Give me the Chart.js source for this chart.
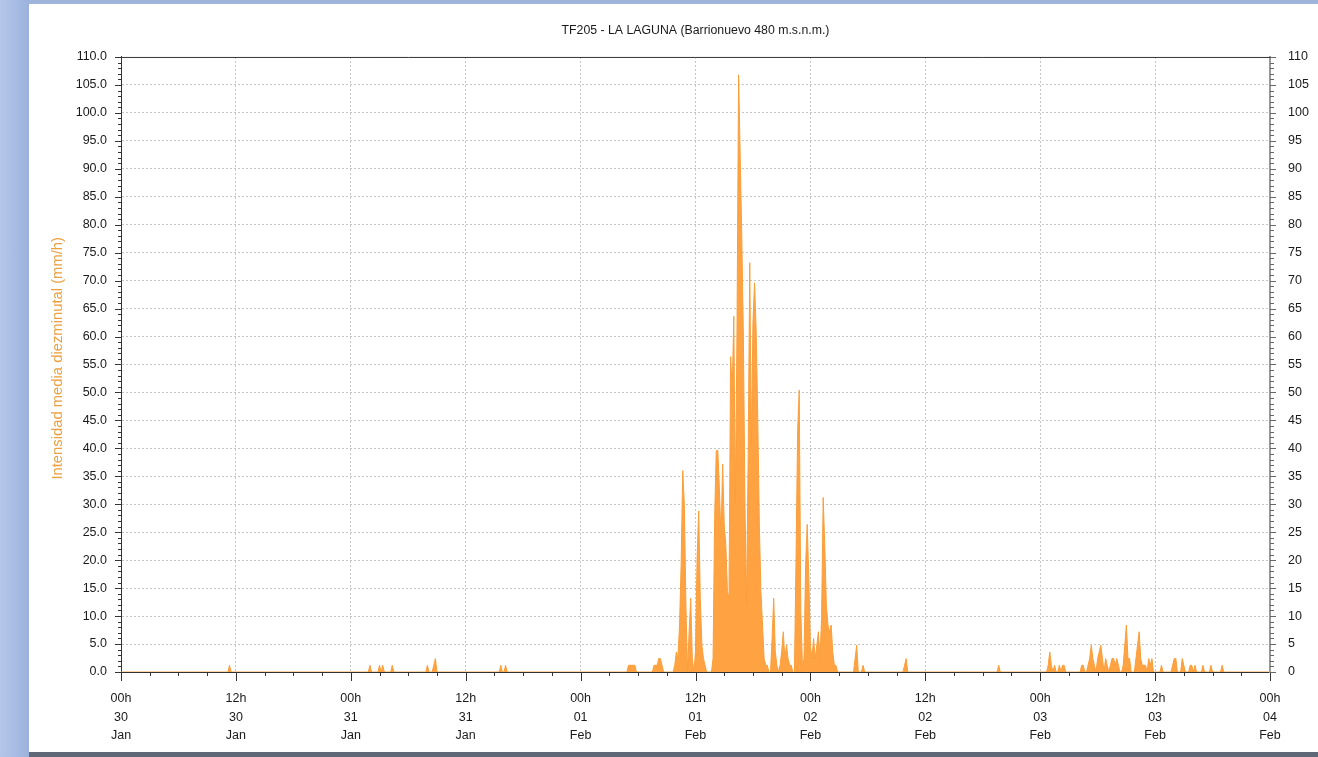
<!DOCTYPE html>
<html>
<head>
<meta charset="utf-8">
<script src="https://cdn.jsdelivr.net/npm/chart.js@4.4.1/dist/chart.umd.min.js"></script>
<style>
html, body { margin: 0; padding: 0; }
body { width: 1318px; height: 757px; overflow: hidden; background: #5f6877; position: relative; }
#frameTop { position: absolute; left: 0; top: 0; width: 1318px; height: 4px; background: #9fb4da; }
#frameLeft { position: absolute; left: 0; top: 0; width: 29px; height: 757px; background: linear-gradient(to right, #b4c7ea, #9cb2dc); }
#panel { position: absolute; left: 29px; top: 4px; width: 1289px; height: 748px; background: #fff; }
</style>
</head>
<body>
<div id="frameTop"></div>
<div id="frameLeft"></div>
<div id="panel"><canvas id="chart1" width="1289" height="748"></canvas></div>
<script>
// axis labels
const hourLabels = ['00h', '12h']
const dayLabels = ['30', '31', '01', '02', '03', '04']
const monthLabels = ['Jan', 'Jan', 'Feb', 'Feb', 'Feb', 'Feb']

// rain bursts: start time (day hh:mm) and 10-minute intensities (mm/h)
const burstStart = [
    '30 11:20',
    '31 02:00', '31 03:00', '31 03:20', '31 04:20', '31 08:00', '31 08:40', '31 15:40', '31 16:10',
    '01 05:00', '01 07:40', '01 09:50', '01 11:20', '01 12:00', '01 13:50', '01 20:00', '01 22:30',
    '02 04:40', '02 05:30', '02 09:50', '02 19:40',
    '03 00:50', '03 01:30', '03 02:00', '03 02:20', '03 04:20', '03 05:00', '03 06:00', '03 06:50',
    '03 07:20', '03 08:40', '03 10:00', '03 11:20', '03 12:40', '03 13:50', '03 14:50', '03 15:40',
    '03 16:10', '03 17:00', '03 17:50', '03 19:00'
]
const burstValues = [
    [1.2],
    [1.2], [1.2], [1.2], [1.2], [1.2], [1.2, 2.4], [1.2], [1.2],
    [1.2, 1.2, 1.2, 1.2, 1.2],
    [1.2, 1.2, 1.2, 2.4, 2.4, 1.2],
    [1.2, 3.6, 2.4, 8.4, 19.2, 36, 30, 12],
    [7.2, 13.2, 2.4],
    [3.6, 20.4, 28.8, 13.2, 4.8, 2.4, 1.2],
    [2.4, 27.6, 39.6, 39.6, 32.4, 24, 37.2, 26.4, 22.8, 14.4, 13.2, 56.4, 50.4, 63.6, 30, 61.2, 106.8, 92.4,
     78, 60, 30, 12, 38.4, 73.2, 40.8, 62.4, 69.6, 61.2, 45.6, 26.4, 14.4, 8.4, 2.4, 1.2, 1.2],
    [6, 13.2, 3.6, 1.2, 0, 1.2, 3.6, 7.2, 2.4, 4.8, 2.4, 1.2, 1.2],
    [20.4, 43.2, 50.4, 10.8, 1.2, 2.4, 19.2, 26.4, 16.8, 4.8, 2.4, 6, 2.4, 4.8, 7.2, 2.4, 9.6, 31.2, 22.8, 12,
     8.4, 7.2, 8.4, 3.6, 1.2, 1.2],
    [2.4, 4.8], [1.2], [1.2, 2.4], [1.2],
    [1.2, 3.6, 1.2], [1.2], [1.2], [1.2, 1.2], [1.2, 1.2], [1.2, 2.4, 4.8, 2.4, 1.2], [2.4, 3.6, 4.8, 2.4],
    [2.4, 1.2], [1.2, 2.4, 2.4, 1.2, 2.4, 1.2], [1.2, 4.8, 8.4, 2.4, 2.4], [2.4, 4.8, 7.2, 2.4, 1.2, 1.2, 1.2],
    [2.4, 1.2, 2.4], [1.2], [1.2, 2.4, 2.4], [2.4, 1.2], [1.2, 1.2],
    [1.2], [1.2], [1.2], [1.2]
]

const totalHours = 120
const yMax = 110

// 10-minute series, zero where no rain was recorded
let rainSeries = []
for (let i = 0; i <= totalHours * 6; i++) rainSeries.push({ x: i / 6, y: 0 })
burstStart.forEach((s, b) => {
    const [dd, hm] = s.split(' ')
    const [hh, mm] = hm.split(':').map(Number)
    const start = dayLabels.indexOf(dd) * 144 + hh * 6 + mm / 10
    burstValues[b].forEach((v, k) => { rainSeries[start + k].y = v })
})

const fontName = "'Liberation Sans', Arial, sans-serif"
const inkColor = '#1a1a1a'

// minor ticks and the frame line on top
const axisDecor = {
    id: 'axisDecor',
    afterDraw(chart) {
        const { ctx, chartArea, scales } = chart
        ctx.save()
        ctx.lineWidth = 1
        ctx.strokeStyle = '#333'
        ctx.beginPath()
        ctx.moveTo(chartArea.left, chartArea.top + 0.5)
        ctx.lineTo(chartArea.right, chartArea.top + 0.5)
        for (let v = 0; v <= yMax; v++) {
            const py = Math.round(scales.y.getPixelForValue(v)) + 0.5
            const len = v % 5 === 0 ? 6 : 3
            ctx.moveTo(chartArea.left - len, py)
            ctx.lineTo(chartArea.left, py)
        }
        for (let h = 0; h <= totalHours; h += 3) {
            const px = Math.round(scales.x.getPixelForValue(h)) + 0.5
            const len = h % 12 === 0 ? 9 : 4
            ctx.moveTo(px, chartArea.bottom)
            ctx.lineTo(px, chartArea.bottom + len)
        }
        ctx.stroke()
        ctx.strokeStyle = '#666'
        ctx.beginPath()
        for (let v = 0; v <= yMax; v++) {
            const py = Math.round(scales.y2.getPixelForValue(v)) + 0.5
            const len = v % 5 === 0 ? 6 : 4
            ctx.moveTo(chartArea.right, py)
            ctx.lineTo(chartArea.right + len, py)
        }
        ctx.stroke()
        ctx.restore()
    }
}

const rainChart = new Chart(
    document.getElementById('chart1'),
    {
        type: 'line',
        data: {
            datasets: [
                {
                    label: 'Intensidad',
                    data: rainSeries,
                    borderColor: 'rgb(250, 158, 58)',
                    backgroundColor: 'rgb(255, 163, 66)',
                    borderWidth: 1,
                    pointRadius: 0,
                    tension: 0,
                    fill: 'origin'
                }
            ]
        },
        options: {
            responsive: false,
            animation: false,
            devicePixelRatio: 1,
            layout: { padding: 0 },
            scales: {
                x: {
                    type: 'linear',
                    min: 0,
                    max: totalHours,
                    afterFit: scale => { scale.height = 80 },
                    ticks: {
                        stepSize: 12,
                        autoSkip: false,
                        maxRotation: 0,
                        padding: 17.5,
                        color: inkColor,
                        font: { family: fontName, size: 12.5, lineHeight: 1.47 },
                        callback: v => {
                            const d = Math.floor(v / 24)
                            return [hourLabels[(v % 24) / 12], dayLabels[d], monthLabels[d]]
                        }
                    },
                    grid: {
                        drawTicks: false,
                        color: c => (c.tick && c.tick.value > 0 && c.tick.value < totalHours) ? '#c4c4c4' : 'rgba(0,0,0,0)'
                    },
                    border: { color: '#333', dash: [2, 2] }
                },
                y: {
                    position: 'left',
                    min: 0,
                    max: yMax,
                    afterFit: scale => { scale.width = 92 },
                    ticks: {
                        stepSize: 5,
                        padding: 14,
                        color: inkColor,
                        font: { family: fontName, size: 12.5 },
                        callback: v => v.toFixed(1)
                    },
                    grid: {
                        drawTicks: false,
                        color: c => (c.tick && c.tick.value > 0 && c.tick.value < yMax) ? '#c4c4c4' : 'rgba(0,0,0,0)'
                    },
                    border: { color: '#333', dash: [2, 2] },
                    title: {
                        display: true,
                        text: '\u00a0\u00a0\u00a0Intensidad media diezminutal (mm/h)',
                        color: 'rgb(236, 160, 64)',
                        font: { family: fontName, size: 14.8 },
                        padding: { top: 20, bottom: 0 }
                    }
                },
                y2: {
                    position: 'right',
                    min: 0,
                    max: yMax,
                    afterFit: scale => { scale.width = 48 },
                    ticks: {
                        stepSize: 5,
                        padding: 18,
                        color: inkColor,
                        font: { family: fontName, size: 12.5 },
                        callback: v => String(v)
                    },
                    grid: { display: false, drawTicks: false },
                    border: { color: '#999', width: 2 }
                }
            },
            plugins: {
                legend: { display: false },
                tooltip: { enabled: false },
                title: {
                    display: true,
                    fullSize: false,
                    text: 'TF205 - LA LAGUNA (Barrionuevo 480 m.s.n.m.)',
                    color: inkColor,
                    font: { family: fontName, size: 12.3, weight: 'normal', lineHeight: 1.2 },
                    padding: { top: 19, bottom: 19.2 }
                }
            }
        },
        plugins: [axisDecor]
    }
)
</script>
</body>
</html>
